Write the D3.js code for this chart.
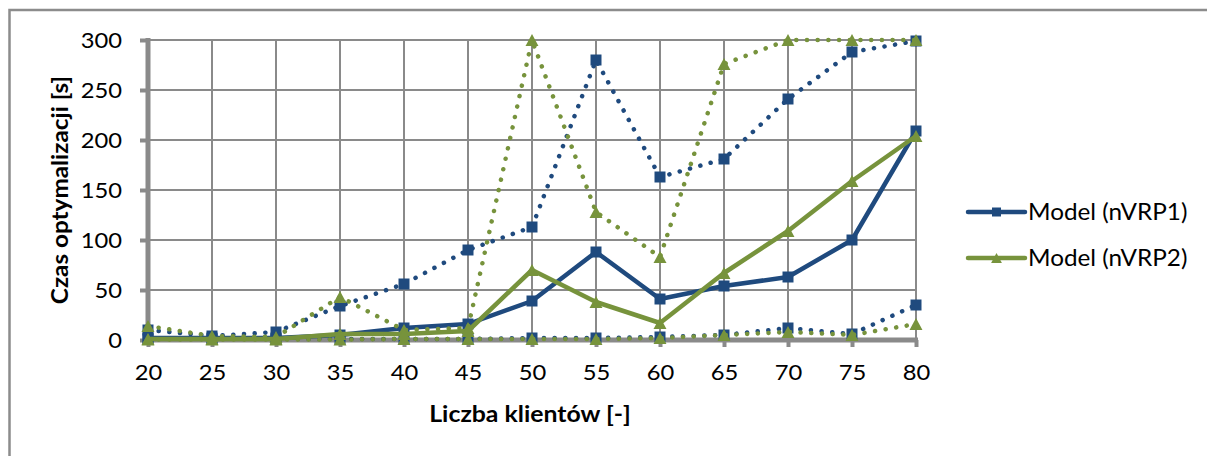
<!DOCTYPE html>
<html>
<head>
<meta charset="utf-8">
<script src="https://cdn.jsdelivr.net/npm/d3@7"></script>
<style>
  body { margin: 0; background: #fff; }
  svg { display: block; }
  text { font-family: Lato, "Open Sans", sans-serif; fill: #000; }
</style>
</head>
<body>
<svg id="chart" width="1207" height="456"></svg>
<script>
// Number of clients (x categories)
const clients = [20, 25, 30, 35, 40, 45, 50, 55, 60, 65, 70, 75, 80];
const yTicks = [0, 50, 100, 150, 200, 250, 300];

// Optimisation time [s] – mean values (solid lines, shown in legend)
const nvrp1Mean = [2, 2, 2, 5, 12, 16, 39, 88, 41, 54, 63, 100, 209];
const nvrp2Mean = [1, 1, 1, 6, 6, 9, 70, 38, 17, 67, 109, 159, 204];
// Maximum and minimum times (dotted lines)
const nvrp1Max = [10, 4, 8, 34, 56, 90, 113, 280, 163, 181, 241, 288, 299];
const nvrp1Min = [1, 1, 1, 1, 1, 1, 2, 2, 3, 5, 12, 6, 35];
const nvrp2Max = [14, 4, 3, 43, 10, 12, 300, 128, 83, 276, 300, 300, 300];
const nvrp2Min = [0.5, 0.5, 0.5, 0.5, 1, 1, 1, 1, 2, 5, 8, 5, 16];

const legendLabels = ["Model (nVRP1)", "Model (nVRP2)"];
const xTitle = "Liczba klientów [-]";
const yTitle = "Czas optymalizacji [s]";

const BLUE = "#1F4A7E";
const GREEN = "#77933C";
const GRID = "#8a8a8a";
const SX = 1.08; // text stretch along the baseline

const svg = d3.select("#chart");

// outer frame
svg.append("rect")
  .attr("x", 9.5).attr("y", 10).attr("width", 1400).attr("height", 600)
  .attr("fill", "none").attr("stroke", "#8c8c8c").attr("stroke-width", 2.5);

const x = d3.scaleLinear().domain([20, 80]).range([148, 916]);
const y = d3.scaleLinear().domain([0, 300]).range([340, 40]);

// gridlines
const grid = svg.append("g");
grid.selectAll("line.h").data(yTicks.filter(d => d > 0)).join("line")
  .attr("x1", x(20)).attr("x2", x(80))
  .attr("y1", d => y(d)).attr("y2", d => y(d))
  .attr("stroke", GRID).attr("stroke-width", 2);
grid.selectAll("line.v").data(clients.filter(d => d > 20)).join("line")
  .attr("x1", d => x(d)).attr("x2", d => x(d))
  .attr("y1", y(300)).attr("y2", y(0))
  .attr("stroke", GRID).attr("stroke-width", 2);

// axes
const xAxis = svg.append("g").attr("transform", `translate(0,${y(0)})`)
  .call(d3.axisBottom(x).tickValues(clients).tickSize(7).tickSizeOuter(0));
const yAxis = svg.append("g").attr("transform", `translate(${x(20)},0)`)
  .call(d3.axisLeft(y).tickValues(yTicks).tickSize(8).tickSizeOuter(0));

[xAxis, yAxis].forEach(a => {
  a.select(".domain").attr("stroke", GRID).attr("stroke-width", 5);
  a.selectAll(".tick line").attr("stroke", GRID).attr("stroke-width", 4);
  a.selectAll(".tick text").attr("font-size", 22).attr("fill", "#000")
    .attr("font-family", "Lato, sans-serif");
});
xAxis.select(".domain").attr("d", `M${x(20) - 2},0H${x(80) + 2}`);
yAxis.select(".domain").attr("d", `M0,${y(300) - 2}V${y(0) + 2}`);
xAxis.selectAll(".tick text").attr("y", 32).attr("dy", "0.35em")
  .attr("transform", `scale(${SX},1)`);
yAxis.selectAll(".tick text").attr("x", -26 / SX).attr("dy", "0.35em")
  .attr("transform", `scale(${SX},1)`);

// axis titles
svg.append("text")
  .attr("transform", `translate(530,414) scale(${SX},1)`)
  .attr("text-anchor", "middle").attr("dy", "0.35em")
  .attr("font-size", 23).attr("font-weight", "bold").text(xTitle);
svg.append("text")
  .attr("transform", `translate(60,190) rotate(-90) scale(${SX},1)`)
  .attr("text-anchor", "middle").attr("dy", "0.35em")
  .attr("font-size", 22.5).attr("font-weight", "bold").text(yTitle);

const markers = {
  square: s => `M${-s / 2},${-s / 2}h${s}v${s}h${-s}Z`,
  triangle: s => `M0,${-s / 2}L${s * 0.54},${s / 2}L${-s * 0.54},${s / 2}Z`
};

const series = [
  { values: nvrp1Max, color: BLUE, marker: "square", dotted: true },
  { values: nvrp1Min, color: BLUE, marker: "square", dotted: true },
  { values: nvrp1Mean, color: BLUE, marker: "square", dotted: false },
  { values: nvrp2Max, color: GREEN, marker: "triangle", dotted: true },
  { values: nvrp2Min, color: GREEN, marker: "triangle", dotted: true },
  { values: nvrp2Mean, color: GREEN, marker: "triangle", dotted: false }
];

const line = d3.line().x(d => x(d[0])).y(d => y(d[1]));

series.forEach(s => {
  const pts = clients.map((c, i) => [c, s.values[i]]);
  const g = svg.append("g");
  g.append("path").datum(pts)
    .attr("d", line).attr("fill", "none")
    .attr("stroke", s.color).attr("stroke-width", 4.5)
    .attr("stroke-linecap", "round").attr("stroke-linejoin", "round")
    .attr("stroke-dasharray", s.dotted ? "0.1 10.6" : null);
  g.selectAll("path.m").data(pts).join("path")
    .attr("class", "m")
    .attr("transform", d => `translate(${x(d[0])},${y(d[1])})`)
    .attr("d", markers[s.marker](s.marker === "square" ? 11 : 12))
    .attr("fill", s.color);
});

// legend
const legend = svg.append("g");
[{ label: legendLabels[0], color: BLUE, marker: "square", cy: 212 },
 { label: legendLabels[1], color: GREEN, marker: "triangle", cy: 258 }].forEach(e => {
  legend.append("line").attr("x1", 968).attr("x2", 1025)
    .attr("y1", e.cy).attr("y2", e.cy)
    .attr("stroke", e.color).attr("stroke-width", 4.5).attr("stroke-linecap", "round");
  legend.append("path").attr("transform", `translate(996.5,${e.cy})`)
    .attr("d", markers[e.marker](e.marker === "square" ? 9 : 10)).attr("fill", e.color);
  legend.append("text").attr("transform", `translate(1028,${e.cy}) scale(${SX},1)`)
    .attr("dy", "0.35em").attr("font-size", 22.5).text(e.label);
});
</script>
</body>
</html>
